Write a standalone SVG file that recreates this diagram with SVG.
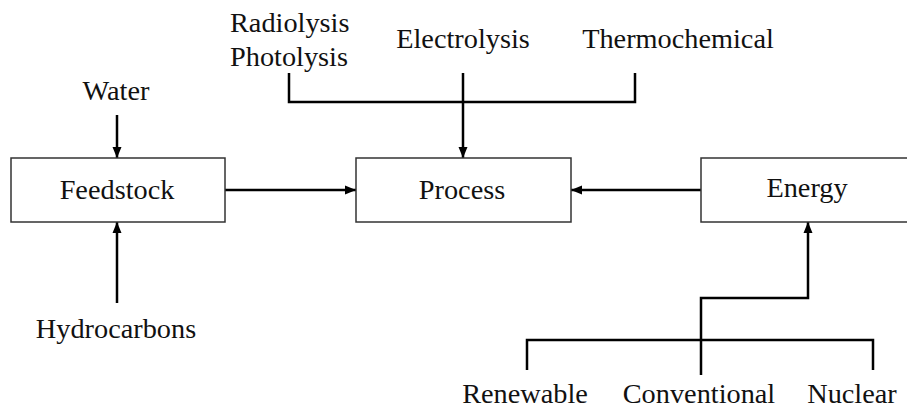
<svg xmlns="http://www.w3.org/2000/svg" width="907" height="409" viewBox="0 0 907 409">
<style>
text{font-family:'Liberation Serif','Times New Roman',Tinos,'DejaVu Serif',serif;font-size:28.3px;fill:#111}
.box{fill:#fff;stroke:#333;stroke-width:1.5}
.c{fill:none;stroke:#000;stroke-width:2.5}
.m{text-anchor:middle}
</style>
<defs>
<marker id="ah" markerUnits="userSpaceOnUse" markerWidth="12" markerHeight="10" refX="11" refY="5" orient="auto">
<path d="M0,0.5 L11,5 L0,9.5 z" fill="#000"/>
</marker>
</defs>
<rect width="907" height="409" fill="#fff"/>
<g id="connectors">
<path class="c" d="M117 115 V158" marker-end="url(#ah)"/>
<path class="c" d="M117 303 V222" marker-end="url(#ah)"/>
<path class="c" d="M225 190 H356" marker-end="url(#ah)"/>
<path class="c" d="M701 190 H571" marker-end="url(#ah)"/>
<path class="c" d="M289 73 V102 H635 V73"/>
<path class="c" d="M463 73 V158" marker-end="url(#ah)"/>
<path class="c" d="M527 370 V340 H873 V370"/>
<path class="c" d="M701 375 V298 H808 V222" marker-end="url(#ah)"/>
</g>
<g id="feedstock">
<rect class="box" x="11" y="158" width="214" height="64"/>
<text class="m" x="117" y="199">Feedstock</text>
</g>
<g id="process">
<rect class="box" x="356" y="158" width="215" height="64"/>
<text class="m" x="462" y="199">Process</text>
</g>
<g id="energy">
<rect class="box" x="701" y="158" width="220" height="64"/>
<text class="m" x="807" y="197">Energy</text>
</g>
<g id="water"><text class="m" x="116" y="100">Water</text></g>
<g id="hydrocarbons"><text class="m" x="116" y="338">Hydrocarbons</text></g>
<g id="radiolysis-photolysis">
<text x="230" y="32">Radiolysis</text>
<text x="230" y="66">Photolysis</text>
</g>
<g id="electrolysis"><text class="m" x="463" y="48">Electrolysis</text></g>
<g id="thermochemical"><text class="m" x="678" y="48">Thermochemical</text></g>
<g id="renewable"><text class="m" x="525" y="403">Renewable</text></g>
<g id="conventional"><text class="m" x="699" y="403">Conventional</text></g>
<g id="nuclear"><text class="m" x="852" y="403">Nuclear</text></g>
</svg>
